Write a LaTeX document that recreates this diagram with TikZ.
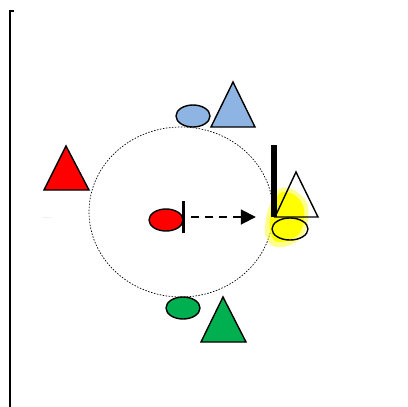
\documentclass[tikz,border=0pt]{standalone}
\usetikzlibrary{arrows.meta,positioning,shapes.geometric}
\definecolor{softblue}{RGB}{141,180,226}
\definecolor{deepgreen}{RGB}{0,176,80}
\definecolor{brightred}{RGB}{255,0,0}
\definecolor{brightyellow}{RGB}{255,255,0}

\begin{document}
\begin{tikzpicture}[
    x=1pt, y=-1pt,
    disc/.style={draw, ellipse, line width=1.4pt, minimum width=34pt, minimum height=22pt, inner sep=0pt},
    tri/.style={draw, line width=1.4pt, line join=miter},
    bar/.style={fill=black, inner sep=0pt, minimum width=#1}
  ]
    \useasboundingbox (0,0) rectangle (408,407);

    % frame line on the left
    \draw[line width=2pt] (13.5,11) -- (9.5,11) -- (9.5,407);
    \draw[gray!12, line width=1pt] (42,217) -- (52,217);

    % orbit
    \draw[dash pattern=on 1.5pt off 1.5pt, line width=0.7pt] (181,212) ellipse [x radius=92, y radius=85];

    % yellow glow behind the open pair
    \fill[brightyellow, opacity=0.45] plot[smooth cycle] coordinates {(279,189) (294,190) (307,203) (308,221) (302,237) (288,246) (273,246) (265,233) (268,210)};
    \fill[brightyellow] plot[smooth cycle] coordinates {(280,193) (293,194) (303,205) (304,221) (299,234) (287,241) (275,241) (270,230) (271,210)};

    % top pair
    \node[disc, fill=softblue] (bluedisc) at (193,116) {};
    \draw[tri, fill=softblue] (233,82) -- (255,127) -- (211,127) -- cycle;

    % bottom pair
    \node[disc, fill=deepgreen] (greendisc) at (183,308) {};
    \draw[tri, fill=deepgreen] (223,297) -- (246,342) -- (201,342) -- cycle;

    % left triangle
    \draw[tri, fill=brightred] (66,146) -- (89,190) -- (44,190) -- cycle;

    % centre
    \node[disc, fill=brightred] (reddisc) at (166,220) {};
    \node[bar=3pt, minimum height=32pt] (redbar) at (183.5,217) {};

    % right side
    \draw[tri] (296,172) -- (318,217) -- (275,217) -- cycle;
    \node[disc, minimum width=36pt] (opendisc) at (290,229) {};
    \node[bar=6pt, minimum height=72pt] (bigbar) at (274,181) {};

    % motion
    \draw[line width=1.8pt, dash pattern=on 8pt off 6pt, -{Triangle[length=15pt,width=15pt]}]
      ([xshift=6pt]redbar.east) -- ([xshift=-15pt]bigbar.west |- redbar.east);
  \end{tikzpicture}
\end{document}
